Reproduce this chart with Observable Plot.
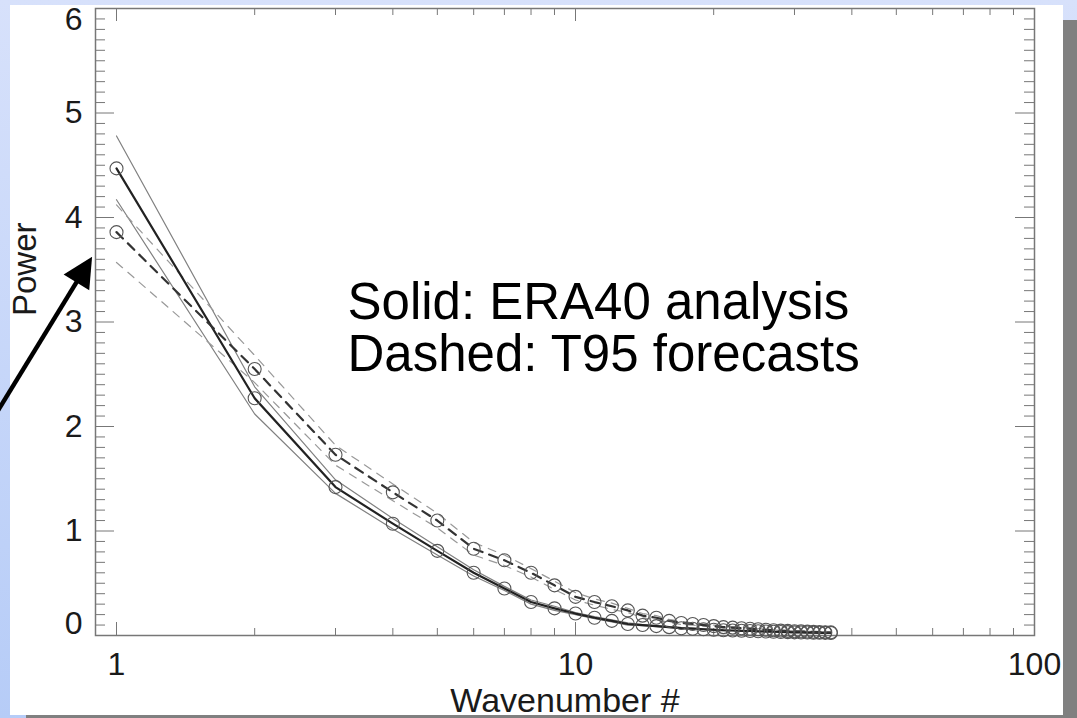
<!DOCTYPE html>
<html>
<head>
<meta charset="utf-8">
<script src="https://cdn.jsdelivr.net/npm/d3@7"></script>
<script src="https://cdn.jsdelivr.net/npm/@observablehq/plot@0.6"></script>
<style>
  html, body { margin: 0; padding: 0; }
  body {
    width: 1077px; height: 718px; overflow: hidden; position: relative;
    background: linear-gradient(#d7e1fb, #b6ccf7);
    font-family: "Liberation Sans", Arial, Helvetica, sans-serif;
  }
  #panel { position: absolute; left: 10px; top: 5px; width: 1053px; height: 710px; background: #fff; }
  #chart { position: absolute; left: 0; top: 0; }
  .shadow { position: absolute; background: #808080; }
</style>
</head>
<body>
<div id="panel"></div>
<div id="chart"></div>
<div class="shadow" style="left:1063px; top:20px; width:14px; height:698px;"></div>
<div class="shadow" style="left:26px; top:715px; width:1051px; height:3px;"></div>
<script>
// Zonal wavenumber power spectrum: ERA40 analysis vs T95 forecasts
const wavenumber = [1, 2, 3, 4, 5, 6, 7, 8, 9, 10, 11, 12, 13, 14, 15, 16, 17, 18,
  19, 20, 21, 22, 23, 24, 25, 26, 27, 28, 29, 30, 31, 32, 33, 34, 35, 36];

// ERA40 analysis (solid): mean with upper/lower spread
const era40Mean = [4.47, 2.27, 1.42, 1.07, 0.81, 0.60, 0.45, 0.32, 0.26, 0.21, 0.17, 0.14,
  0.11, 0.10, 0.09, 0.08, 0.07, 0.065, 0.06, 0.055, 0.05, 0.048, 0.045, 0.043, 0.04, 0.038,
  0.036, 0.034, 0.032, 0.03, 0.029, 0.028, 0.027, 0.026, 0.025, 0.024];
const era40Upper = [4.78, 2.38, 1.49, 1.12, 0.85, 0.63, 0.47, 0.34, 0.28, 0.22, 0.18, 0.15,
  0.12, 0.105, 0.095, 0.085, 0.075, 0.07, 0.063, 0.058, 0.053, 0.05, 0.047, 0.045, 0.042, 0.04,
  0.038, 0.036, 0.034, 0.032, 0.031, 0.03, 0.029, 0.028, 0.027, 0.026];
const era40Lower = [4.17, 2.12, 1.36, 1.02, 0.77, 0.57, 0.43, 0.30, 0.24, 0.20, 0.16, 0.13,
  0.10, 0.095, 0.085, 0.075, 0.066, 0.06, 0.057, 0.052, 0.047, 0.046, 0.043, 0.041, 0.038, 0.036,
  0.034, 0.032, 0.03, 0.028, 0.027, 0.026, 0.025, 0.024, 0.023, 0.022];

// T95 forecasts (dashed): mean with upper/lower spread
const t95Mean = [3.86, 2.55, 1.73, 1.37, 1.10, 0.83, 0.72, 0.60, 0.48, 0.37, 0.32, 0.28,
  0.24, 0.19, 0.17, 0.14, 0.12, 0.11, 0.10, 0.09, 0.08, 0.075, 0.07, 0.065, 0.06, 0.055,
  0.05, 0.047, 0.044, 0.041, 0.039, 0.037, 0.035, 0.033, 0.031, 0.03];
const t95Upper = [4.12, 2.68, 1.82, 1.45, 1.17, 0.89, 0.77, 0.64, 0.52, 0.41, 0.35, 0.31,
  0.26, 0.21, 0.19, 0.155, 0.135, 0.12, 0.11, 0.10, 0.09, 0.083, 0.077, 0.071, 0.066, 0.06,
  0.055, 0.052, 0.048, 0.045, 0.043, 0.04, 0.038, 0.036, 0.034, 0.033];
const t95Lower = [3.57, 2.42, 1.63, 1.29, 1.03, 0.77, 0.67, 0.56, 0.44, 0.34, 0.29, 0.25,
  0.22, 0.17, 0.15, 0.125, 0.105, 0.10, 0.09, 0.08, 0.07, 0.067, 0.063, 0.059, 0.054, 0.05,
  0.045, 0.042, 0.04, 0.037, 0.035, 0.034, 0.032, 0.03, 0.028, 0.027];

// Axis ticks and labels
const xTickLabels = [1, 10, 100];
const xMinorTicks = [2, 3, 4, 5, 6, 7, 8, 9, 20, 30, 40, 50, 60, 70, 80, 90];
const yTickLabels = [0, 1, 2, 3, 4, 5, 6];
const xTitle = "Wavenumber #";
const yTitle = "Power";
const noteText = "Solid: ERA40 analysis\nDashed: T95 forecasts";

// Annotation arrow pointing at the low-wavenumber end of the curves
const arrowFrom = {k: 0.55, power: 2.13};
const arrowTo = {k: 0.887, power: 3.62};

const series = (values) => wavenumber.map((k, i) => ({k, power: values[i]}));
const yMinorTicks = d3.range(1, 60).filter((i) => i % 10 !== 0).map((i) => i / 10);

const W = 1077, H = 718, mL = 95, mR = 43, mT = 8, mB = 83;
const plotW = W - mL - mR, plotH = H - mT - mB;

const axisColor = "#777";
const inkColor = "#1a1a1a";
const fontSize = 32;

function arrowMark(index, scales) {
  const x1 = scales.x(arrowFrom.k), y1 = scales.y(arrowFrom.power);
  const x2 = scales.x(arrowTo.k), y2 = scales.y(arrowTo.power);
  const ang = Math.atan2(y2 - y1, x2 - x1);
  const headLen = 30, headHalf = 15;
  const bx = x2 - headLen * Math.cos(ang), by = y2 - headLen * Math.sin(ang);
  const px = -Math.sin(ang), py = Math.cos(ang);
  const g = d3.create("svg:g");
  g.append("line")
    .attr("x1", x1).attr("y1", y1).attr("x2", bx + Math.cos(ang) * 2).attr("y2", by + Math.sin(ang) * 2)
    .attr("stroke", "#000").attr("stroke-width", 4.5);
  g.append("path")
    .attr("d", `M${x2},${y2}L${bx + px * headHalf},${by + py * headHalf}L${bx - px * headHalf},${by - py * headHalf}Z`)
    .attr("fill", "#000");
  return g.node();
}

const chart = Plot.plot({
  width: W, height: H,
  marginLeft: mL, marginRight: mR, marginTop: mT, marginBottom: mB,
  style: {background: "transparent", fontFamily: "'Liberation Sans', Arial, Helvetica, sans-serif", color: inkColor},
  x: {type: "log", domain: [0.9, 100], axis: null},
  y: {domain: [0, 6], axis: null},
  marks: [
    // box ticks (all pointing inward)
    Plot.tickY(yMinorTicks, {y: (d) => d, insetRight: plotW - 10, stroke: axisColor}),
    Plot.tickY(yTickLabels, {y: (d) => d, insetRight: plotW - 19, stroke: axisColor}),
    Plot.tickY(yMinorTicks, {y: (d) => d, insetLeft: plotW - 10, stroke: axisColor}),
    Plot.tickY(yTickLabels, {y: (d) => d, insetLeft: plotW - 19, stroke: axisColor}),
    Plot.tickX(xMinorTicks, {x: (d) => d, insetTop: plotH - 7, stroke: axisColor}),
    Plot.tickX(xTickLabels, {x: (d) => d, insetTop: plotH - 13, stroke: axisColor}),
    Plot.tickX(xMinorTicks, {x: (d) => d, insetBottom: plotH - 7, stroke: axisColor}),
    Plot.tickX(xTickLabels, {x: (d) => d, insetBottom: plotH - 13, stroke: axisColor}),
    Plot.frame({stroke: axisColor, strokeWidth: 1.5}),

    // tick labels
    Plot.text(yTickLabels.filter((d) => d > 0 && d < 6), {y: (d) => d, text: (d) => `${d}`, frameAnchor: "left", dx: -13, textAnchor: "end", fontSize, fill: inkColor}),
    Plot.text(yTickLabels.filter((d) => d === 0), {y: (d) => d, text: (d) => `${d}`, frameAnchor: "left", dx: -13, dy: -12, textAnchor: "end", fontSize, fill: inkColor}),
    Plot.text(yTickLabels.filter((d) => d === 6), {y: (d) => d, text: (d) => `${d}`, frameAnchor: "left", dx: -13, dy: 11, textAnchor: "end", fontSize, fill: inkColor}),
    Plot.text(xTickLabels, {x: (d) => d, text: (d) => `${d}`, frameAnchor: "bottom", dy: 39, fontSize, fill: inkColor}),

    // axis titles
    Plot.text([xTitle], {frameAnchor: "bottom", dy: 76, fontSize: 34, fill: inkColor}),
    Plot.text([yTitle], {frameAnchor: "left", dx: -70, dy: -6, rotate: -90, fontSize: 33, fill: inkColor}),

    // spread envelopes (thin gray)
    Plot.line(series(era40Upper), {x: "k", y: "power", stroke: "#808080", strokeWidth: 1.2}),
    Plot.line(series(era40Lower), {x: "k", y: "power", stroke: "#808080", strokeWidth: 1.2}),
    Plot.line(series(t95Upper), {x: "k", y: "power", stroke: "#999", strokeWidth: 1.2, strokeDasharray: "8,7"}),
    Plot.line(series(t95Lower), {x: "k", y: "power", stroke: "#999", strokeWidth: 1.2, strokeDasharray: "8,7"}),

    // means with open circles
    Plot.line(series(era40Mean), {x: "k", y: "power", stroke: "#222", strokeWidth: 2.2}),
    Plot.line(series(t95Mean), {x: "k", y: "power", stroke: "#333", strokeWidth: 2.2, strokeDasharray: "9,7"}),
    Plot.dot(series(era40Mean), {x: "k", y: "power", r: 6.5, stroke: "#555", strokeWidth: 1.1, fill: "none"}),
    Plot.dot(series(t95Mean), {x: "k", y: "power", r: 6.5, stroke: "#555", strokeWidth: 1.1, fill: "none"}),

    // legend note
    Plot.text([noteText], {frameAnchor: "top-left", dx: 252, dy: 274, textAnchor: "start", lineAnchor: "top", lineHeight: 1.02, fontSize: 51, fill: "#000"}),

    arrowMark
  ]
});

document.getElementById("chart").appendChild(chart);
</script>
</body>
</html>
